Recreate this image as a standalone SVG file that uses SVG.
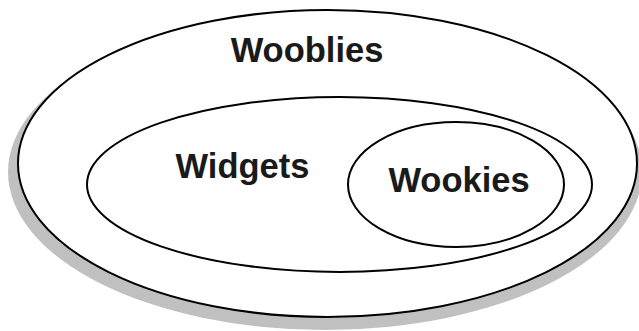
<svg xmlns="http://www.w3.org/2000/svg" width="639" height="331" viewBox="0 0 639 331">
<style>
.set{fill:#fff;stroke:#000;stroke-width:2}
.lbl{font-family:"Liberation Sans",Arial,sans-serif;font-weight:bold;font-size:34.5px;fill:#1a1a1a;text-anchor:middle}
</style>
<rect width="639" height="331" fill="#fff"/>
<g id="wooblies">
<ellipse cx="325" cy="172" rx="317" ry="158" fill="#c0c0c0"/>
<ellipse class="set" cx="327.5" cy="163.5" rx="309.5" ry="153.5"/>
<text class="lbl" x="307" y="62">Wooblies</text>
</g>
<g id="widgets">
<ellipse class="set" cx="339.5" cy="184.5" rx="252.5" ry="87.5"/>
<text class="lbl" x="242.5" y="178">Widgets</text>
</g>
<g id="wookies">
<ellipse class="set" cx="456" cy="184.5" rx="108" ry="62.5"/>
<text class="lbl" x="459" y="192">Wookies</text>
</g>
<g id="connectors"/>
</svg>
